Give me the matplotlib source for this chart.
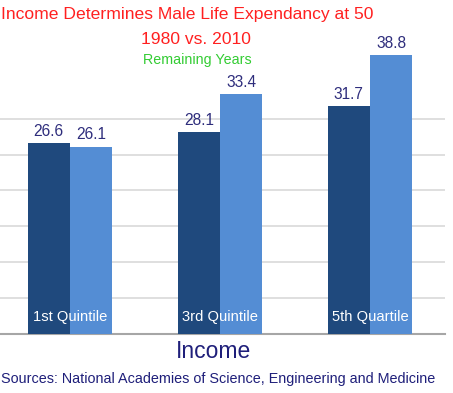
import matplotlib
matplotlib.use("Agg")
import matplotlib.pyplot as plt
import numpy as np

categories = ["1st Quintile", "3rd Quintile", "5th Quartile"]
values_1980 = [26.6, 28.1, 31.7]
values_2010 = [26.1, 33.4, 38.8]
yticks = [0, 5, 10, 15, 20, 25, 30]

plt.rcParams["font.family"] = ["Liberation Sans", "DejaVu Sans"]

W, H = 453, 393
fig = plt.figure(figsize=(W / 100, H / 100), dpi=100)
ax = fig.add_axes([0, (H - 334) / H, 445 / W, 334 / H])

dark = "#1f497d"
light = "#548dd4"
navy = "#2e2d7c"

x = np.arange(len(categories))
bw = 0.283
ax.bar(x - bw / 2, values_1980, bw, color=dark, zorder=3)
ax.bar(x + bw / 2, values_2010, bw, color=light, zorder=3)

for xi, v in zip(x, values_1980):
    ax.text(xi - bw / 2, v + 0.6, f"{v}", ha="center", va="bottom", fontsize=11.2, color=navy, zorder=4)
for xi, v in zip(x, values_2010):
    ax.text(xi + bw / 2, v + 0.6, f"{v}", ha="center", va="bottom", fontsize=11.2, color=navy, zorder=4)
for xi, c in zip(x, categories):
    ax.text(xi, 2.3, c, ha="center", va="center", fontsize=10.6, color="white", zorder=4)

ax.set_xlim(-70 / 150, 375 / 150)
ax.set_ylim(0, 334 / 7.18)
ax.set_yticks(yticks)
ax.yaxis.grid(True, color="#d9d9d9", linewidth=1.2, zorder=0)
ax.tick_params(left=False, bottom=False, labelleft=False, labelbottom=False)
for s in ["top", "right", "left"]:
    ax.spines[s].set_visible(False)
ax.spines["bottom"].set_color("#a6a6a6")
ax.spines["bottom"].set_linewidth(1.5)
ax.set_facecolor("none")

fig.text(187 / W, 1 - 15 / H, "Income Determines Male Life Expendancy at 50", ha="center", va="center",
         fontsize=12.6, color="#ff2020")
fig.text(196 / W, 1 - 39 / H, "1980 vs. 2010", ha="center", va="center", fontsize=12.6, color="#ff2020")
fig.text(197 / W, 1 - 60 / H, "Remaining Years", ha="center", va="center", fontsize=10.3, color="#33cc33")
fig.text(214 / W, 1 - 352 / H, "Income", ha="center", va="center", fontsize=16.5, color="#1f1f7a")
fig.text(218 / W, 1 - 379 / H, "Sources: National Academies of Science, Engineering and Medicine",
         ha="center", va="center", fontsize=10.4, color="#1f1f7a")

fig.savefig("out.png", dpi=100)
